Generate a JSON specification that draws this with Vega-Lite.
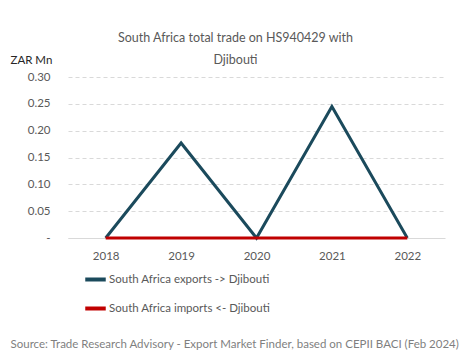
{
  "$schema": "https://vega.github.io/schema/vega-lite/v6.json",
  "autosize": {"type": "none"},
  "width": 377,
  "height": 161,
  "padding": {"left": 68, "top": 77, "right": 20, "bottom": 121},
  "background": "white",
  "config": {"font": "Lato", "view": {"stroke": null}},
  "title": {
    "text": ["South Africa total trade on HS940429 with", "Djibouti"],
    "fontSize": 12.5,
    "fontWeight": "normal",
    "color": "#595959",
    "lineHeight": 22,
    "anchor": "middle",
    "dx": -21,
    "offset": -12
  },
  "data": {
    "values": [
      {"year": "2018", "series": "South Africa exports -> Djibouti", "value": 0},
      {"year": "2019", "series": "South Africa exports -> Djibouti", "value": 0.177},
      {"year": "2020", "series": "South Africa exports -> Djibouti", "value": 0},
      {"year": "2021", "series": "South Africa exports -> Djibouti", "value": 0.245},
      {"year": "2022", "series": "South Africa exports -> Djibouti", "value": 0},
      {"year": "2018", "series": "South Africa imports <- Djibouti", "value": 0},
      {"year": "2019", "series": "South Africa imports <- Djibouti", "value": 0},
      {"year": "2020", "series": "South Africa imports <- Djibouti", "value": 0},
      {"year": "2021", "series": "South Africa imports <- Djibouti", "value": 0},
      {"year": "2022", "series": "South Africa imports <- Djibouti", "value": 0}
    ]
  },
  "mark": {"type": "line", "strokeWidth": 3, "strokeJoin": "miter"},
  "encoding": {
    "x": {
      "field": "year",
      "type": "ordinal",
      "scale": {"type": "point", "padding": 0.5},
      "axis": {
        "title": "Source: Trade Research Advisory - Export Market Finder, based on CEPII BACI (Feb 2024)",
        "titleFont": "Lato",
        "titleFontSize": 11.5,
        "titleFontWeight": "normal",
        "titleColor": "#7f7f7f",
        "titleAnchor": "start",
        "titleAlign": "left",
        "titleBaseline": "middle",
        "titleX": -58,
        "titleY": 106,
        "labelAngle": 0,
        "labelFontSize": 11.5,
        "labelColor": "#595959",
        "labelPadding": 12,
        "ticks": false,
        "domain": true,
        "domainColor": "#d9d9d9",
        "domainWidth": 1,
        "grid": false
      }
    },
    "y": {
      "field": "value",
      "type": "quantitative",
      "scale": {"domain": [0, 0.3], "nice": false},
      "axis": {
        "title": "ZAR Mn",
        "titleAngle": 0,
        "titleAlign": "left",
        "titleBaseline": "middle",
        "titleX": -58,
        "titleY": -17,
        "titleFontSize": 11.5,
        "titleFontWeight": "normal",
        "titleColor": "#262626",
        "values": [0, 0.05, 0.1, 0.15, 0.2, 0.25, 0.3],
        "labelExpr": "datum.value == 0 ? '-' : format(datum.value, '.2f')",
        "labelFontSize": 11.5,
        "labelColor": "#595959",
        "labelPadding": 18,
        "ticks": false,
        "domain": false,
        "grid": true,
        "gridColor": "#d9d9d9",
        "gridDash": [4, 3],
        "gridWidth": 1
      }
    },
    "color": {
      "field": "series",
      "type": "nominal",
      "scale": {
        "domain": ["South Africa exports -> Djibouti", "South Africa imports <- Djibouti"],
        "range": ["#1b4a5c", "#c00000"]
      },
      "legend": {
        "title": null,
        "orient": "none",
        "legendX": 15,
        "legendY": 190,
        "direction": "vertical",
        "symbolType": "stroke",
        "symbolSize": 420,
        "symbolStrokeWidth": 4,
        "labelFontSize": 11.5,
        "labelColor": "#595959",
        "labelOffset": 1,
        "rowPadding": 8,
        "labelLimit": 300
      }
    }
  }
}
